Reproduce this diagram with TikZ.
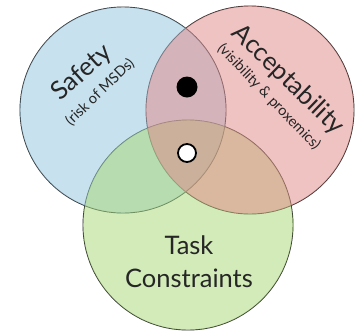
\documentclass[tikz,border=0pt]{standalone}
\usepackage{fontspec}
\setmainfont{Lato}
\definecolor{safetyblue}{RGB}{145,195,221}
\definecolor{taskgreen}{RGB}{165,215,115}
\definecolor{acceptred}{RGB}{225,135,135}
\tikzset{
  outline/.style={line width=0.9pt, draw=black!85},
  tint/.style={fill opacity=0.5},
  bigtext/.style={font=\fontsize{25.5}{26}\selectfont, text=black!85, inner sep=0pt},
  smalltext/.style={font=\fontsize{14.5}{15}\selectfont, text=black!85, inner sep=0pt},
}
\begin{document}
\begin{tikzpicture}[x=1pt,y=-1pt]
	\useasboundingbox (0,0) rectangle (356,333);

	% centres of the three sets
	\coordinate (safety) at (123,110);
	\coordinate (accept) at (250,110);
	\coordinate (task) at (188,225);

	\draw[outline] (safety) circle[radius=103pt];
	\draw[outline] (accept) circle[radius=104pt];
	\draw[outline] (task) circle[radius=105pt];

	\fill[safetyblue, tint] (safety) circle[radius=103pt];
	\fill[taskgreen, tint] (task) circle[radius=105pt];
	\fill[acceptred, tint] (accept) circle[radius=104pt];

	\node[bigtext, rotate=42] (safetylabel) at (82,73) {Safety};
	\node[smalltext, rotate=44] (safetysub) at (100,92) {(risk of MSDs)};

	\node[bigtext, rotate=-44] (acceptlabel) at (288,80) {Acceptability};
	\node[smalltext, rotate=-46] (acceptsub) at (269,97) {(visibility \& proxemics)};

	\node[bigtext, align=center] (tasklabel) at (189,262) {Task\\[7pt]Constraints};

	\node[circle, fill=black, minimum size=21pt, inner sep=0pt] (blackdot) at (187,87) {};
	\node[circle, draw=black, line width=1.8pt, fill=white, minimum size=18pt, inner sep=0pt] (whitedot) at (187,153) {};

\end{tikzpicture}
\end{document}
